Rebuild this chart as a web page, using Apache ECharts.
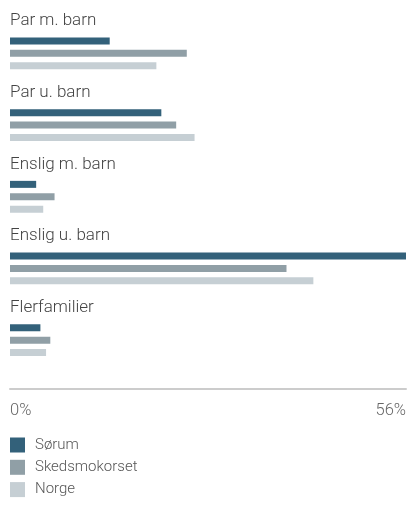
<!DOCTYPE html>
<html>
<head>
<meta charset="utf-8">
<script src="https://cdn.jsdelivr.net/npm/echarts@6/dist/echarts.min.js"></script>
<style>
html,body{margin:0;padding:0;background:#fff;overflow:hidden;}
#chart{width:409px;height:523px;}
</style>
</head>
<body>
<div id="chart"></div>
<script>
const categories = ['Par m. barn', 'Par u. barn', 'Enslig m. barn', 'Enslig u. barn', 'Flerfamilier'];
const seriesNames = ['Sørum', 'Skedsmokorset', 'Norge'];
const sorum = [14.1, 21.4, 3.7, 56.0, 4.3];
const skedsmokorset = [25.0, 23.5, 6.3, 39.1, 5.7];
const norge = [20.7, 26.1, 4.7, 42.9, 5.1];
const axisMax = 56;
const colors = ['#33617a', '#909fa6', '#c6cfd4'];

const font = 'Roboto';
const chart = echarts.init(document.getElementById('chart'), null, {renderer: 'canvas'});
const dataSets = [sorum, skedsmokorset, norge];
chart.setOption({
  animation: false,
  color: colors,
  textStyle: {fontFamily: font},
  grid: {left: 10, right: 0, top: 17.5, height: 358.5, containLabel: false},
  xAxis: {
    type: 'value', min: 0, max: axisMax, interval: axisMax,
    offset: 13,
    axisLine: {show: true, lineStyle: {color: '#cccccc', width: 2}},
    axisTick: {show: false},
    splitLine: {show: false},
    axisLabel: {
      formatter: '{value}%', color: '#666', fontSize: 16.5, fontWeight: 300, fontFamily: font,
      margin: 13, alignMinLabel: 'left', alignMaxLabel: 'right'
    }
  },
  yAxis: {
    type: 'category', data: categories, inverse: true,
    axisLine: {show: false}, axisTick: {show: false},
    axisLabel: {
      interval: 0, align: 'left', margin: 0, color: '#444', fontSize: 17, fontWeight: 300,
      fontFamily: font, verticalAlign: 'bottom', lineHeight: 17, padding: [0, 0, 24, 0]
    }
  },
  legend: {
    orient: 'vertical', left: 10, top: 437.5, padding: 0, itemWidth: 15, itemHeight: 15, itemGap: 7.3,
    icon: 'rect', data: seriesNames,
    textStyle: {color: '#555', fontSize: 15, fontWeight: 300, fontFamily: font, padding: [0, 0, 0, 5]}
  },
  series: seriesNames.map((n, i) => ({
    name: n, type: 'bar', data: dataSets[i], barWidth: 7, barGap: '77%',
    itemStyle: {color: colors[i]}
  }))
});
</script>
</body>
</html>
